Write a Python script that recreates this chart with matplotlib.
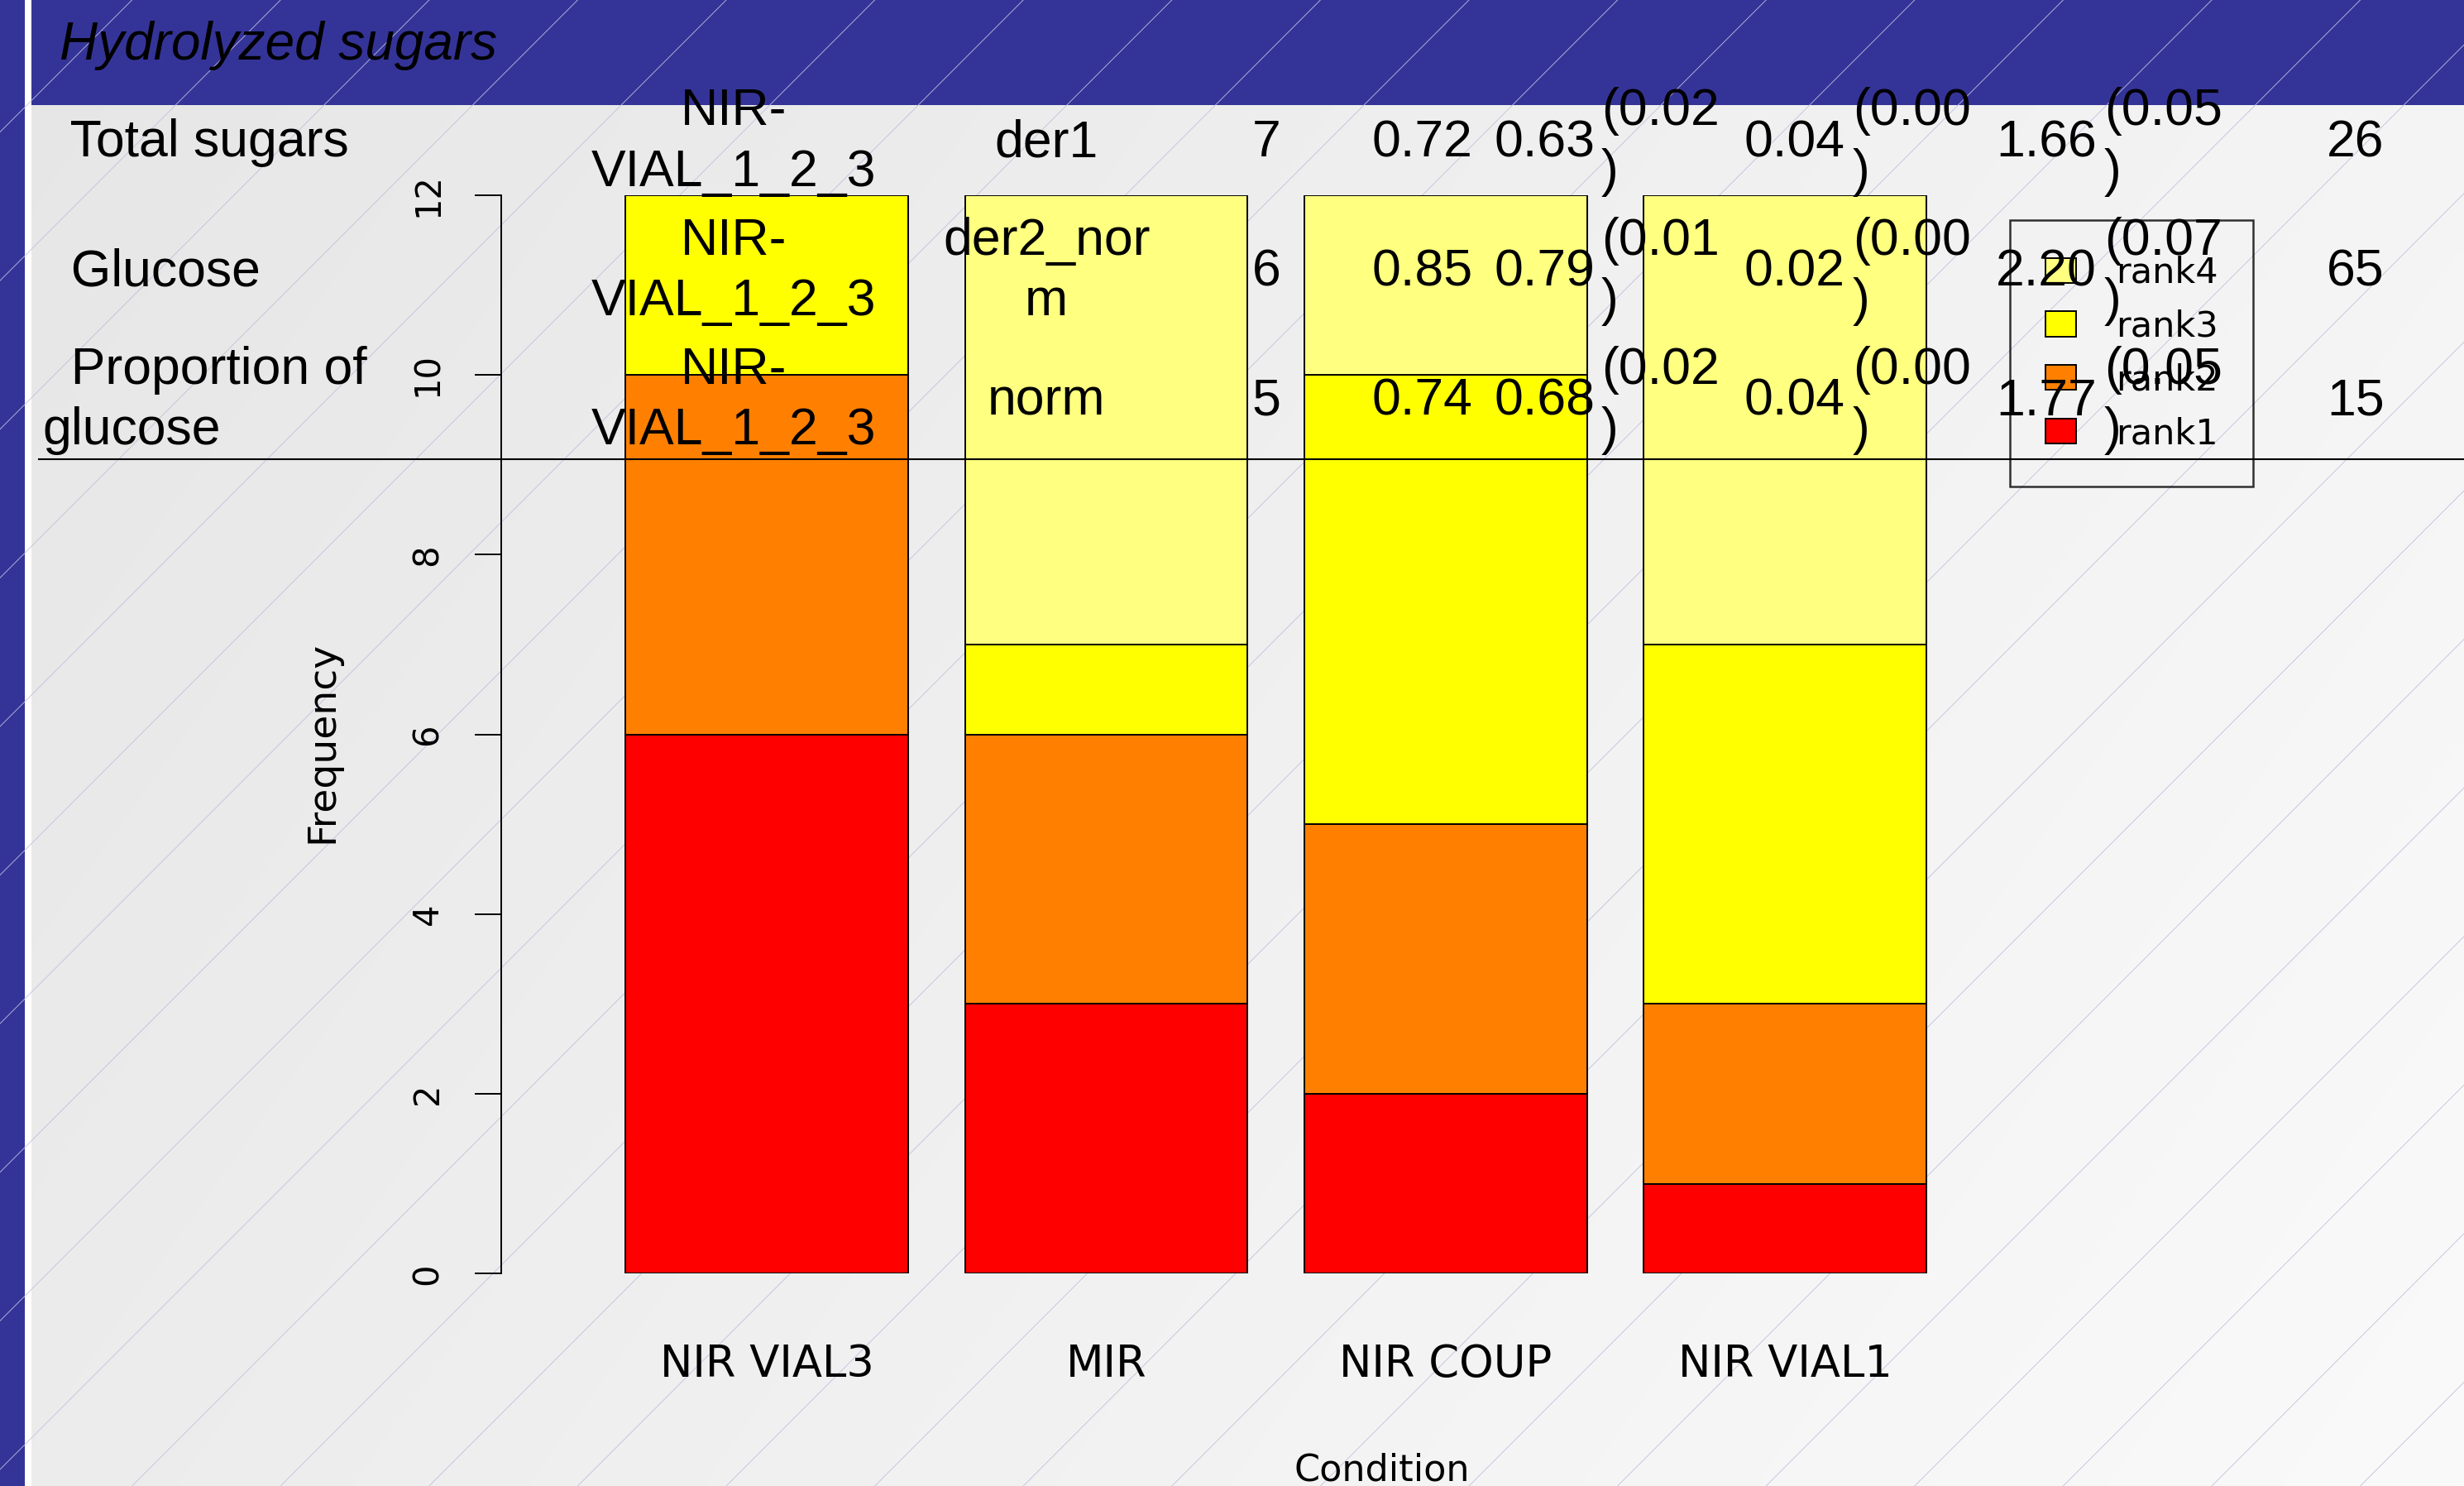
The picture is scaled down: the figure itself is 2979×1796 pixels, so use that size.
"""Stacked rank barplot with the summary table pasted over it (slide screenshot)."""
import matplotlib
matplotlib.use("Agg")
import matplotlib.pyplot as plt
from matplotlib.lines import Line2D
from matplotlib.patches import Rectangle
import numpy as np

W, H = 2979, 1796
DPI = 100
PW, PH = 1568, 945          # layout measured on the shrunk slide

# --- bar chart data ---
conditions = ["NIR VIAL3", "MIR", "NIR COUP", "NIR VIAL1"]
rank_labels = ["rank1", "rank2", "rank3", "rank4"]
rank1 = [6, 3, 2, 1]
rank2 = [4, 3, 3, 2]
rank3 = [2, 1, 5, 4]
rank4 = [0, 5, 2, 5]
rank_colors = ["#FF0000", "#FF8000", "#FFFF00", "#FFFF80"]
y_ticks = [0, 2, 4, 6, 8, 10, 12]

# --- table pasted on top ---
row_names = ["  Total sugars", "  Glucose", "  Proportion of\nglucose"]
pipeline = ["NIR-\nVIAL_1_2_3"] * 3
pretreat = ["der1", "der2_nor\nm", "norm"]
n_comp = ["7", "6", "5"]
r2_cal = ["0.72", "0.85", "0.74"]
r2_val = ["0.63", "0.79", "0.68"]
r2_sd = ["(0.02\n)", "(0.01\n)", "(0.02\n)"]
rmse = ["0.04", "0.02", "0.04"]
rmse_sd = ["(0.00\n)", "(0.00\n)", "(0.00\n)"]
rpd = ["1.66", "2.20", "1.77"]
rpd_sd = ["(0.05\n)", "(0.07\n)", "(0.05\n)"]
pct = ["26", "65", "15"]

BLUE = "#343498"
AXFONT = "DejaVu Sans"
SANS = "Liberation Sans"


def fx(x):
    return x / PW


def fy(y):
    return 1 - y / PH


fig = plt.figure(figsize=(W / DPI, H / DPI), dpi=DPI)

# --- slide background: grey gradient, faint diagonal hatch, blue frame ---
bg = fig.add_axes([0, 0, 1, 1], zorder=-10)
bg.set_xlim(0, W); bg.set_ylim(H, 0); bg.axis("off")
gx, gy = np.meshgrid(np.linspace(0, 1, 300), np.linspace(0, 1, 200))
g = (230 + 14 * gx + 6 * gy) / 255
bg.imshow(np.dstack([g, g, g]), extent=(0, W, H, 0), aspect="auto", interpolation="bilinear")
for c in np.arange(878 - 5 * 179.6, W + H + 180, 179.6):
    bg.plot([c - H, c], [H, 0], color="#c0c0e0", lw=0.6)
bg.add_patch(Rectangle((0, 0), 30, H, color=BLUE, lw=0))
bg.add_patch(Rectangle((30, 0), 8, H, color="white", lw=0))
bg.add_patch(Rectangle((38, 0), W - 38, 127, color=BLUE, lw=0))

# --- barplot ---
ax = fig.add_axes([fx(319), fy(810), fx(1440 - 319), (810 - 124) / PH])
ax.patch.set_alpha(0)
x = np.arange(len(conditions)) * 1.2 + 0.7
bottom = np.zeros(len(conditions))
for vals, col, lab in zip([rank1, rank2, rank3, rank4], rank_colors, rank_labels):
    ax.bar(x, vals, width=1.0, bottom=bottom, color=col, edgecolor="black", linewidth=1.4, label=lab)
    bottom += vals
ax.set_xlim(0.7 - (488 - 319) / 180, 0.7 + (1440 - 488) / 180)
ax.set_ylim(0, 12)
for s in ["top", "right", "bottom"]:
    ax.spines[s].set_visible(False)
ax.spines["left"].set_bounds(0, 12)
ax.spines["left"].set_linewidth(1.4)

ax.set_yticks(y_ticks)
ax.tick_params(axis="y", length=23, width=1.4, pad=26, labelsize=30, labelrotation=90)
for t in ax.get_yticklabels():
    t.set_va("center"); t.set_family(AXFONT)
ax.set_xticks(x, conditions)
ax.tick_params(axis="x", length=0, pad=60, labelsize=38)
for t in ax.get_xticklabels():
    t.set_family(AXFONT)

ax.set_xlabel("Condition", fontsize=32, family=AXFONT, va="center")
ax.xaxis.set_label_coords(0.5, (810 - 935) / (810 - 124))
ax.set_ylabel("Frequency", fontsize=34, family=AXFONT, va="center")
ax.yaxis.set_label_coords((205 - 319) / (1440 - 319), (810 - 472) / (810 - 124))

h, l = ax.get_legend_handles_labels()
leg = ax.legend(h[::-1], l[::-1], loc="upper left", bbox_to_anchor=(fx(1279), fy(140)),
                bbox_transform=fig.transFigure, borderaxespad=0, fancybox=False,
                edgecolor="black", facecolor="none", prop={"family": AXFONT, "size": 31},
                handlelength=0.88, handleheight=0.7, handletextpad=1.1,
                labelspacing=0.53, borderpad=0.99)
leg.get_frame().set_linewidth(1.8)

# --- header + table text ---
fig.text(fx(38), fy(37.9), "Hydrolyzed sugars", family=SANS, style="italic", fontsize=46,
         va="baseline", color="black")

columns = [(row_names, 27, "left"), (pipeline, 467, "center"), (pretreat, 666, "center"),
           (n_comp, 806, "center"), (r2_cal, 905, "center"), (r2_val, 983, "center"),
           (r2_sd, 1019, "left"), (rmse, 1142, "center"), (rmse_sd, 1179, "left"),
           (rpd, 1302, "center"), (rpd_sd, 1339, "left"), (pct, 1499, "center")]
baselines = [99.5, 182, 264]
for cells, cx, ha in columns:
    for txt, base in zip(cells, baselines):
        # wrapped cells: "baseline" anchors the last line
        yb = base + 18.7 if "\n" in txt else base
        fig.text(fx(cx), fy(yb), txt, family=SANS, fontsize=45, ha=ha, ma=ha,
                 va="baseline", linespacing=1.31, color="black")

fig.add_artist(Line2D([fx(25), 1], [fy(292), fy(292)], transform=fig.transFigure,
                      color="black", lw=1.5, zorder=3))

fig.savefig("out.png", dpi=DPI)
